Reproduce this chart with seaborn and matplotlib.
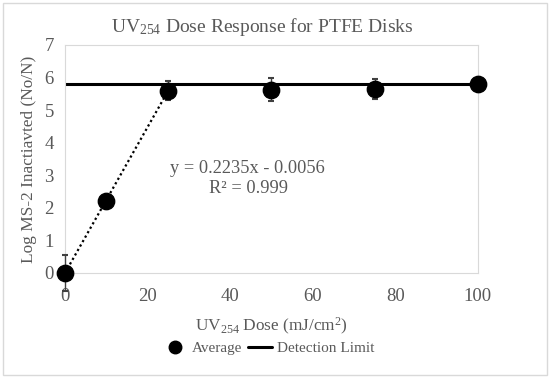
import numpy as np
import pandas as pd
import matplotlib
matplotlib.use("Agg")
import matplotlib.pyplot as plt
from matplotlib.lines import Line2D
from matplotlib.patches import Rectangle
import seaborn as sns

# data
dose = [0, 10, 25, 50, 75, 100]
log_inact = [0, 2.22, 5.6, 5.63, 5.65, 5.8]
err = [0.55, 0, 0.3, 0.35, 0.3, 0]
det_x = [0, 100]
det_y = [5.8, 5.8]
fit_n = 3  # trendline over first three points
x_ticks = [0, 20, 40, 60, 80, 100]
y_ticks = [0, 1, 2, 3, 4, 5, 6, 7]

sns.set_style("white")
plt.rcParams["font.family"] = ["Liberation Serif", "DejaVu Serif"]
plt.rcParams["mathtext.fontset"] = "custom"
plt.rcParams["mathtext.rm"] = "Liberation Serif"
plt.rcParams["mathtext.it"] = "Liberation Serif:italic"
plt.rcParams["mathtext.bf"] = "Liberation Serif:bold"
plt.rcParams["mathtext.default"] = "rm"
txt = "#595959"

df = pd.DataFrame({"dose": dose, "log": log_inact, "err": err})
det = pd.DataFrame({"dose": det_x, "log": det_y})

fig = plt.figure(figsize=(5.5, 3.78), dpi=100)
ax = fig.add_axes([0.118, 0.278, 0.751, 0.603])

# detection limit
sns.lineplot(data=det, x="dose", y="log", color="black", linewidth=2.2, ax=ax, zorder=2)

# linear trendline (dotted)
slope, icpt = np.polyfit(dose[:fit_n], log_inact[:fit_n], 1)
tx = np.array([dose[0], dose[fit_n - 1]])
ax.plot(tx, slope * tx + icpt, color="black", linestyle=(0, (1, 1.3)), linewidth=1.6, zorder=2)

# error bars
ax.errorbar(df["dose"], df["log"], yerr=df["err"], fmt="none", ecolor="#404040",
            elinewidth=1, capsize=2.5, capthick=1.5, zorder=3, clip_on=False)

sns.scatterplot(data=df, x="dose", y="log", color="black", s=140, edgecolor="black",
                ax=ax, zorder=4, clip_on=False)

ax.set_xlim(0, 100)
ax.set_ylim(0, 7)
ax.set_xticks(x_ticks)
ax.set_yticks(y_ticks)
ax.tick_params(axis="both", length=0, labelsize=13.5, colors=txt, pad=11)
ax.tick_params(axis="y", pad=8)
for s in ax.spines.values():
    s.set_color("#d9d9d9")
    s.set_linewidth(0.8)

ax.set_xlabel("UV$_{254}$ Dose (mJ/cm$^{2}$)", fontsize=12.4, color=txt, labelpad=8)
ax.set_ylabel("Log MS-2 Inactiavted (No/N)", fontsize=12.4, color=txt, labelpad=5)
ax.set_title("UV$_{254}$ Dose Response for PTFE Disks", fontsize=14, color=txt, pad=9, x=0.478)

ax.text(25.5, 3.2, "y = 0.2235x - 0.0056", fontsize=13.2, color=txt, ha="left", va="center")
ax.text(44.5, 2.6, "R² = 0.999", fontsize=13.2, color=txt, ha="center", va="center")

handles = [Line2D([], [], marker="o", color="black", linestyle="none", markersize=9),
           Line2D([], [], color="black", linewidth=2.2)]
fig.legend(handles, ["Average", "Detection Limit"], loc="center", bbox_to_anchor=(0.488, 0.078),
           ncol=2, frameon=False, fontsize=11, labelcolor=txt, handlelength=1.6,
           handletextpad=0.3, columnspacing=0.4)

fig.patches.append(Rectangle((0.006, 0.008), 0.988, 0.984, transform=fig.transFigure,
                             fill=False, edgecolor="#d9d9d9", linewidth=1))

fig.savefig("out.png", dpi=100)
